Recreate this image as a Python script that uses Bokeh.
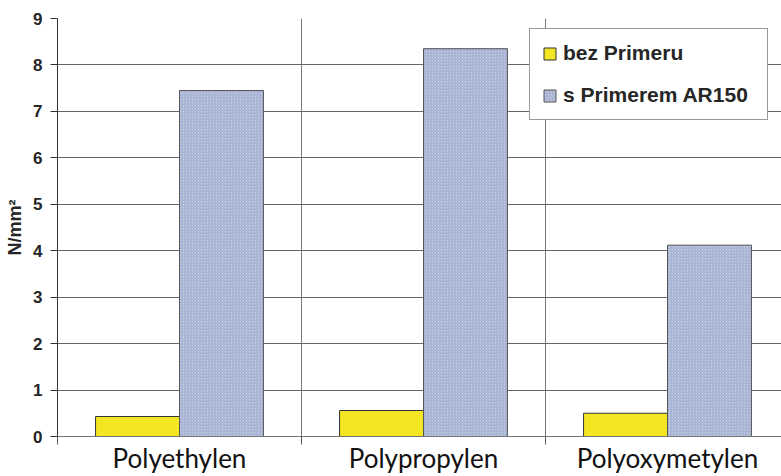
from bokeh.plotting import figure
from bokeh.models import ColumnDataSource, FixedTicker, Legend, LegendItem, Range1d
from bokeh.embed import file_html
from bokeh.resources import INLINE

categories = ["Polyethylen", "Polypropylen", "Polyoxymetylen"]
bez_primeru = [0.43, 0.56, 0.50]
s_primerem = [7.45, 8.35, 4.12]
series_names = ["bez Primeru", "s Primerem AR150"]
y_ticks = [0, 1, 2, 3, 4, 5, 6, 7, 8, 9]

idx = list(range(len(categories)))
centers = [i + 0.5 for i in idx]
bar_w = 0.344
src = ColumnDataSource(dict(
    x1=[c - bar_w / 2 for c in centers],
    x2=[c + bar_w / 2 for c in centers],
    a=bez_primeru,
    b=s_primerem,
))

p = figure(width=781, height=476, output_backend="svg", toolbar_location=None,
           x_range=Range1d(0, 724 / 244), y_range=Range1d(0, 9),
           min_border_left=57, min_border_right=0, min_border_top=18, min_border_bottom=40)
p.outline_line_color = None
p.background_fill_color = "white"

r1 = p.vbar(x="x1", top="a", width=bar_w, source=src, fill_color="#f5e624",
            line_color="#333333", line_width=1)
r2 = p.vbar(x="x2", top="b", width=bar_w, source=src, fill_color="#c3cce6",
            hatch_pattern="/", hatch_color="#9ca8cc", hatch_scale=3, hatch_weight=1,
            line_color="#555555", line_width=1)

# y axis
p.yaxis.ticker = FixedTicker(ticks=y_ticks)
p.yaxis.axis_line_color = "#333333"
p.yaxis.major_tick_line_color = "#333333"
p.yaxis.major_tick_out = 7
p.yaxis.major_tick_in = 0
p.yaxis.minor_tick_line_color = None
p.yaxis.major_label_text_font = "Liberation Sans"
p.yaxis.major_label_text_font_style = "bold"
p.yaxis.major_label_text_font_size = "17px"
p.yaxis.major_label_text_color = "#262626"
p.yaxis.major_label_standoff = 8
p.yaxis.axis_label = "N/mm²"
p.yaxis.axis_label_text_font = "Liberation Sans"
p.yaxis.axis_label_text_font_style = "bold"
p.yaxis.axis_label_text_font_size = "18px"
p.yaxis.axis_label_text_color = "#262626"
p.yaxis.axis_label_standoff = 5

# x axis
p.xaxis.ticker = FixedTicker(ticks=centers, minor_ticks=[0, 1, 2, 3])
p.xaxis.major_label_overrides = {c: n for c, n in zip(centers, categories)}
p.xaxis.major_tick_line_color = None
p.xaxis.minor_tick_line_color = "#555555"
p.xaxis.minor_tick_out = 8
p.xaxis.minor_tick_in = 0
p.xaxis.axis_line_color = "#777777"
p.xaxis.major_label_text_font = "Lato"
p.xaxis.major_label_text_font_size = "26px"
p.xaxis.major_label_text_color = "#111111"
p.xaxis.major_label_standoff = -3

# grids
p.ygrid.ticker = FixedTicker(ticks=y_ticks)
p.ygrid.grid_line_color = "#666666"
p.xgrid.ticker = FixedTicker(ticks=[1, 2])
p.xgrid.grid_line_color = "#777777"

legend = Legend(items=[LegendItem(label=series_names[0], renderers=[r1]),
                       LegendItem(label=series_names[1], renderers=[r2])],
                location=(472, 316), margin=0, padding=12, spacing=18,
                glyph_width=15, glyph_height=15, label_height=24, label_width=192,
                label_standoff=6,
                label_text_font="Liberation Sans", label_text_font_style="bold",
                label_text_font_size="21px", label_text_color="#262626",
                border_line_color="#333333", border_line_width=1,
                background_fill_color="white", background_fill_alpha=1)
p.add_layout(legend, "center")

open("out.html", "w").write(file_html(p, INLINE))
